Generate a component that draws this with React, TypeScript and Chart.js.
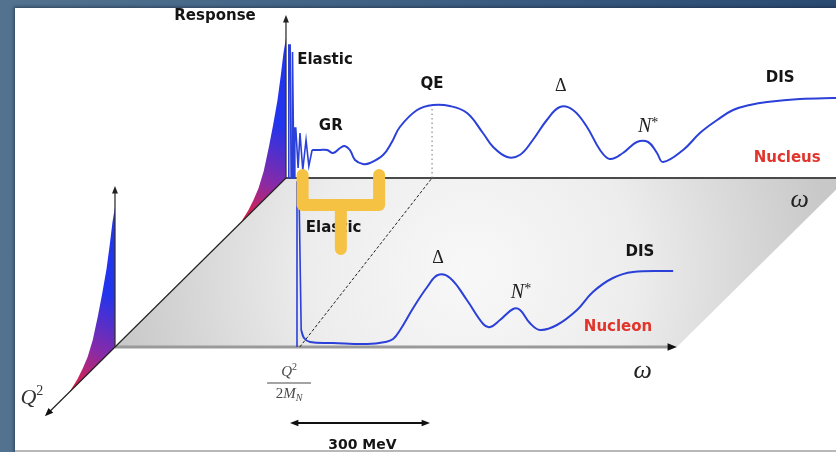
import { useEffect, useRef } from 'react';
import { Chart, registerables } from 'chart.js';

Chart.register(...registerables);

const WIDTH = 836;
const HEIGHT = 452;

// ω runs along x in MeV, the response along y in arbitrary units.
// Q² is shown as depth: 0 is the nucleon plane (front), 1 the nucleus plane (back).
const OMEGA_MIN = -246.4;
const OMEGA_MAX = 1545;
const RESP_MIN = -105;
const RESP_MAX = 347;
const DEPTH_OMEGA = 366.4;
const DEPTH_RESP = 169;

const NUCLEON_DEPTH = 0;
const NUCLEUS_DEPTH = 1;
const Q2_AXIS_TIP = -0.41;
const OMEGA_AXIS_END = 1204;
const NUCLEUS_EDGE_END = 1300;
const RESPONSE_AXIS_TOP = 163;

// Elastic peak height as it falls off with Q² (depth measured from each plane)
const ELASTIC_Q2_DEPTH = [-0.265, -0.22, -0.19, -0.16, -0.13, -0.1, -0.075, -0.05, -0.03, -0.015, 0];
const ELASTIC_Q2_RESP = [0, 5, 10, 17, 29, 48, 66, 86, 108, 127, 140];

// Nucleon: elastic spike at ω = Q²/2M_N, then Δ, N* and DIS
const NUCLEON_ELASTIC_OMEGA = [390, 390, 394, 399];
const NUCLEON_ELASTIC_RESP = [0, 165, 165, 17];
const NUCLEON_OMEGA = [399, 405, 418, 467, 540, 579, 596, 611, 639, 669, 692, 718, 754, 789, 804, 825, 853, 868, 889, 911, 947, 990, 1024, 1067, 1110, 1196];
const NUCLEON_RESP = [17, 9, 5, 4, 3, 5, 8, 17, 39, 60, 72, 69, 47, 23, 20, 27, 38, 37, 24, 17, 22, 37, 55, 69, 75, 76];

// Nucleus: elastic spikes and giant resonance wiggles, then QE, Δ, N* and DIS
const NUCLEUS_ELASTIC_OMEGA = [6, 6, 9, 11, 13, 13, 15, 17, 19, 19, 21, 26, 30, 36, 43, 49, 56];
const NUCLEUS_ELASTIC_RESP = [0, 133, 133, 0, 0, 126, 126, 0, 0, 50, 50, 10, 45, 8, 38, 12, 28];
const NUCLEUS_OMEGA = [56, 73, 88, 101, 116, 126, 137, 148, 165, 180, 208, 227, 244, 281, 315, 351, 388, 422, 444, 474, 501, 529, 559, 587, 615, 645, 673, 694, 722, 752, 776, 795, 808, 851, 887, 924, 958, 994, 1031, 1101, 1172, 1200];
const NUCLEUS_RESP = [28, 28, 28, 25, 30, 32, 28, 18, 14, 15, 23, 36, 51, 68, 73, 72, 65, 45, 31, 21, 23, 38, 58, 71, 68, 51, 28, 19, 25, 36, 36, 25, 16, 28, 45, 58, 68, 73, 76, 79, 80, 80];

// Quasi-elastic guide: from the nucleon elastic point to the nucleus QE peak
const QE_LINE_OMEGA = [396, 313];
const QE_LINE_DEPTH = [0, 1];
const QE_PEAK_OMEGA = 313;
const QE_PEAK_RESP = 72;

// 300 MeV scale bar
const SCALE_BAR_OMEGA = [375, 675];
const SCALE_BAR_RESP = -76;

// Highlight bracket over the elastic region
const BRACKET_OMEGA = [402, 402, 566, 566, 566, 484, 484];
const BRACKET_RESP = [172, 142, 142, 172, 142, 142, 98];

const BLUE = '#2a40d8';
const RED = '#e0352c';
const INK = '#151515';
const SANS = '"DejaVu Sans", Arial, sans-serif';
const SERIF = '"Liberation Serif", "DejaVu Serif", serif';

type Pt = { x: number; y: number };
const proj = (w: number, r: number, d: number): Pt => ({ x: w + d * DEPTH_OMEGA, y: r + d * DEPTH_RESP });

const series = (ws: number[], rs: number[], d: number): Pt[] => ws.map((w, i) => proj(w, rs[i], d));

function elasticShape(base: number): Pt[] {
  const top = ELASTIC_Q2_DEPTH.map((dd, i) => proj(0, ELASTIC_Q2_RESP[i], base + dd));
  return [...top, proj(0, 0, base), proj(0, 0, base + ELASTIC_Q2_DEPTH[0])];
}

function toPx(chart: Chart, w: number, r: number, d: number) {
  const p = proj(w, r, d);
  return { x: chart.scales.x.getPixelForValue(p.x), y: chart.scales.y.getPixelForValue(p.y) };
}

function elasticGradient(base: number) {
  return (c: any) => {
    const chart = c.chart as Chart;
    if (!chart.chartArea) return '#5030c0';
    const a = toPx(chart, 0, 0, base + ELASTIC_Q2_DEPTH[0]);
    const b = toPx(chart, 0, 50, base);
    const g = chart.ctx.createLinearGradient(a.x, a.y, b.x, b.y);
    g.addColorStop(0, '#e8203a');
    g.addColorStop(0.45, '#8a2aa6');
    g.addColorStop(1, '#2234ec');
    return g;
  };
}

function planeGradient(c: any) {
  const chart = c.chart as Chart;
  if (!chart.chartArea) return '#e0e0e0';
  const ctr = toPx(chart, 600, 0, 0.45);
  const g = chart.ctx.createRadialGradient(ctr.x, ctr.y, 0, ctr.x, ctr.y, 360);
  g.addColorStop(0, '#f8f8f8');
  g.addColorStop(0.45, '#ededed');
  g.addColorStop(0.8, '#d5d5d5');
  g.addColorStop(1, '#c8c8c8');
  return g;
}

function arrowHead(ctx: CanvasRenderingContext2D, from: Pt, to: Pt, size: number, color: string) {
  const ang = Math.atan2(to.y - from.y, to.x - from.x);
  ctx.save();
  ctx.fillStyle = color;
  ctx.beginPath();
  ctx.moveTo(to.x, to.y);
  ctx.lineTo(to.x - size * Math.cos(ang - 0.38), to.y - size * Math.sin(ang - 0.38));
  ctx.lineTo(to.x - size * Math.cos(ang + 0.38), to.y - size * Math.sin(ang + 0.38));
  ctx.closePath();
  ctx.fill();
  ctx.restore();
}

function text(ctx: CanvasRenderingContext2D, s: string, p: Pt, font: string, color: string, align: CanvasTextAlign = 'center', base: CanvasTextBaseline = 'middle') {
  ctx.font = font;
  ctx.fillStyle = color;
  ctx.textAlign = align;
  ctx.textBaseline = base;
  ctx.fillText(s, p.x, p.y);
}

// A symbol with a raised or lowered index, centred on p
function indexed(ctx: CanvasRenderingContext2D, main: string, idx: string, p: Pt, size: number, idxSize: number, shift: number, color: string, mainFont = 'italic', idxFont = '') {
  const mf = `${mainFont} ${size}px ${SERIF}`.trim();
  const sf = `${idxFont} ${idxSize}px ${SERIF}`.trim();
  ctx.font = mf;
  const w1 = ctx.measureText(main).width;
  ctx.font = sf;
  const w2 = ctx.measureText(idx).width;
  const x0 = p.x - (w1 + w2) / 2;
  text(ctx, main, { x: x0, y: p.y }, mf, color, 'left');
  text(ctx, idx, { x: x0 + w1, y: p.y + shift }, sf, color, 'left');
}

const BOLD_LABELS = [
  { s: 'Response', w: -152, r: 162, d: NUCLEUS_DEPTH, align: 'center', color: INK },
  { s: 'Elastic', w: 24, r: 118, d: NUCLEUS_DEPTH, align: 'left', color: INK },
  { s: 'GR', w: 96, r: 52, d: NUCLEUS_DEPTH, align: 'center', color: INK },
  { s: 'QE', w: 313, r: 94, d: NUCLEUS_DEPTH, align: 'center', color: INK },
  { s: 'DIS', w: 1059, r: 100, d: NUCLEUS_DEPTH, align: 'center', color: INK },
  { s: 'Nucleus', w: 1074, r: 20, d: NUCLEUS_DEPTH, align: 'center', color: RED },
  { s: 'Elastic', w: 409, r: 119, d: NUCLEON_DEPTH, align: 'left', color: INK },
  { s: 'DIS', w: 1125, r: 95, d: NUCLEON_DEPTH, align: 'center', color: INK },
  { s: 'Nucleon', w: 1078, r: 20, d: NUCLEON_DEPTH, align: 'center', color: RED },
];

function drawDecorations(chart: Chart) {
  const ctx = chart.ctx;
  ctx.save();

  // arrowheads on the axes
  arrowHead(ctx, toPx(chart, 0, 100, NUCLEUS_DEPTH), toPx(chart, 0, RESPONSE_AXIS_TOP, NUCLEUS_DEPTH), 8, '#222');
  arrowHead(ctx, toPx(chart, 0, 100, NUCLEON_DEPTH), toPx(chart, 0, RESPONSE_AXIS_TOP - 2, NUCLEON_DEPTH), 8, '#222');
  arrowHead(ctx, toPx(chart, 0, 0, 0), toPx(chart, 0, 0, Q2_AXIS_TIP), 9, '#111');
  arrowHead(ctx, toPx(chart, 1000, 0, 0), toPx(chart, OMEGA_AXIS_END, 0, 0), 10, '#111');

  // 300 MeV scale bar
  const s0 = toPx(chart, SCALE_BAR_OMEGA[0], SCALE_BAR_RESP, 0);
  const s1 = toPx(chart, SCALE_BAR_OMEGA[1], SCALE_BAR_RESP, 0);
  ctx.strokeStyle = '#111';
  ctx.lineWidth = 2;
  ctx.beginPath();
  ctx.moveTo(s0.x + 4, s0.y);
  ctx.lineTo(s1.x - 4, s1.y);
  ctx.stroke();
  arrowHead(ctx, s1, s0, 9, '#111');
  arrowHead(ctx, s0, s1, 9, '#111');
  text(ctx, '300 MeV', toPx(chart, 530, -102, 0), `bold 14px ${SANS}`, INK, 'center', 'alphabetic');

  for (const l of BOLD_LABELS) {
    text(ctx, l.s, toPx(chart, l.w, l.r, l.d), `bold 15px ${SANS}`, l.color, l.align as CanvasTextAlign);
  }

  // resonance symbols
  text(ctx, 'Δ', toPx(chart, 589, 92, NUCLEUS_DEPTH), `18px ${SERIF}`, '#222');
  text(ctx, 'Δ', toPx(chart, 692, 89, NUCLEON_DEPTH), `18px ${SERIF}`, '#222');
  indexed(ctx, 'N', '*', toPx(chart, 776, 51, NUCLEUS_DEPTH), 20, 14, -4, '#222');
  indexed(ctx, 'N', '*', toPx(chart, 870, 54, NUCLEON_DEPTH), 20, 14, -4, '#222');

  // axis names
  text(ctx, 'ω', toPx(chart, 1101, -22, NUCLEUS_DEPTH), `italic 26px ${SERIF}`, '#222');
  text(ctx, 'ω', toPx(chart, 1131, -24, NUCLEON_DEPTH), `italic 26px ${SERIF}`, '#222');
  indexed(ctx, 'Q', '2', toPx(chart, -178, -51, 0), 22, 14, -7, '#333');

  // Q²/2M_N under the nucleon elastic point
  const fc = toPx(chart, 373, -36, 0);
  const gray = '#4a4a4a';
  indexed(ctx, 'Q', '2', { x: fc.x, y: fc.y - 11 }, 15, 10, -5, gray);
  ctx.strokeStyle = gray;
  ctx.lineWidth = 1.2;
  ctx.beginPath();
  ctx.moveTo(fc.x - 22, fc.y);
  ctx.lineTo(fc.x + 22, fc.y);
  ctx.stroke();
  ctx.font = `15px ${SERIF}`;
  const w2 = ctx.measureText('2').width;
  ctx.font = `italic 15px ${SERIF}`;
  const wM = ctx.measureText('M').width;
  ctx.font = `italic 10px ${SERIF}`;
  const wN = ctx.measureText('N').width;
  const x0 = fc.x - (w2 + wM + wN) / 2;
  text(ctx, '2', { x: x0, y: fc.y + 11 }, `15px ${SERIF}`, gray, 'left');
  text(ctx, 'M', { x: x0 + w2, y: fc.y + 11 }, `italic 15px ${SERIF}`, gray, 'left');
  text(ctx, 'N', { x: x0 + w2 + wM, y: fc.y + 15 }, `italic 10px ${SERIF}`, gray, 'left');

  ctx.restore();
}

const decorations = {
  id: 'figureDecorations',
  beforeDatasetDraw(chart: Chart, args: any) {
    if ((chart.data.datasets[args.index] as any).label === 'bracket') drawDecorations(chart);
  },
};

function line(label: string, data: Pt[], color: string, width: number, order: number, extra: any = {}) {
  return { label, data, borderColor: color, borderWidth: width, pointRadius: 0, tension: 0, fill: false, order, ...extra };
}

export default function App() {
  const ref = useRef<HTMLCanvasElement | null>(null);

  useEffect(() => {
    if (!ref.current) return;
    const plane = [proj(0, 0, 0), proj(OMEGA_AXIS_END, 0, 0), proj(OMEGA_AXIS_END, 0, 1), proj(0, 0, 1), proj(0, 0, 0)];
    const datasets: any[] = [
      line('bracket', series(BRACKET_OMEGA, BRACKET_RESP, 0), '#f5c244', 12, 0, { borderCapStyle: 'round', borderJoinStyle: 'round' }),
      line('nucleon', series(NUCLEON_OMEGA, NUCLEON_RESP, NUCLEON_DEPTH), BLUE, 2, 10, { tension: 0.4 }),
      line('nucleon elastic', series(NUCLEON_ELASTIC_OMEGA, NUCLEON_ELASTIC_RESP, NUCLEON_DEPTH), BLUE, 1.6, 11),
      line('nucleus', series(NUCLEUS_OMEGA, NUCLEUS_RESP, NUCLEUS_DEPTH), BLUE, 2, 12, { tension: 0.4 }),
      line('nucleus elastic', series(NUCLEUS_ELASTIC_OMEGA, NUCLEUS_ELASTIC_RESP, NUCLEUS_DEPTH), BLUE, 1.6, 13),
      line('qe guide', QE_LINE_OMEGA.map((w, i) => proj(w, 0, QE_LINE_DEPTH[i])), '#222', 1, 40, { borderDash: [3, 2] }),
      line('qe peak', [proj(QE_PEAK_OMEGA, 0, NUCLEUS_DEPTH), proj(QE_PEAK_OMEGA, QE_PEAK_RESP, NUCLEUS_DEPTH)], '#777', 1, 41, { borderDash: [1.5, 3] }),
      line('nucleus response axis', [proj(0, 0, NUCLEUS_DEPTH), proj(0, RESPONSE_AXIS_TOP - 4, NUCLEUS_DEPTH)], '#333', 1.3, 50),
      line('nucleon response axis', [proj(0, 0, NUCLEON_DEPTH), proj(0, RESPONSE_AXIS_TOP - 6, NUCLEON_DEPTH)], '#333', 1.3, 51),
      line('q2 axis', [proj(0, 0, Q2_AXIS_TIP + 0.03), proj(0, 0, NUCLEUS_DEPTH)], '#222', 1.2, 52),
      line('omega axis', [proj(0, 0, NUCLEON_DEPTH), proj(OMEGA_AXIS_END - 10, 0, NUCLEON_DEPTH)], '#9a9a9a', 3, 53),
      line('nucleus edge', [proj(0, 0, NUCLEUS_DEPTH), proj(NUCLEUS_EDGE_END, 0, NUCLEUS_DEPTH)], '#4a4a4a', 1.8, 54),
      line('nucleus elastic falloff', elasticShape(NUCLEUS_DEPTH), 'rgba(0,0,0,0)', 0, 60, { fill: 'shape', backgroundColor: elasticGradient(NUCLEUS_DEPTH) }),
      line('nucleon elastic falloff', elasticShape(NUCLEON_DEPTH), 'rgba(0,0,0,0)', 0, 61, { fill: 'shape', backgroundColor: elasticGradient(NUCLEON_DEPTH) }),
      line('plane', plane, 'rgba(0,0,0,0)', 0, 100, { fill: 'shape', backgroundColor: planeGradient }),
    ];

    const chart = new Chart(ref.current, {
      type: 'line',
      data: { datasets },
      options: {
        responsive: false,
        animation: false,
        events: [],
        layout: { padding: 0 },
        plugins: { legend: { display: false }, tooltip: { enabled: false } },
        scales: {
          x: { type: 'linear', min: OMEGA_MIN, max: OMEGA_MAX, display: false },
          y: { type: 'linear', min: RESP_MIN, max: RESP_MAX, display: false },
        },
      },
      plugins: [decorations],
    });
    return () => chart.destroy();
  }, []);

  return (
    <div
      style={{
        position: 'absolute',
        left: 0,
        top: 0,
        width: WIDTH,
        height: HEIGHT,
        overflow: 'hidden',
        background: 'linear-gradient(90deg, #52728f 0%, #3f5f83 50%, #2b4a72 100%)',
      }}
    >
      <div
        style={{
          position: 'absolute',
          left: 15,
          top: 8,
          width: WIDTH - 15,
          height: HEIGHT - 8,
          boxSizing: 'border-box',
          background: '#ffffff',
          borderBottom: '2px solid #b8b8b8',
          boxShadow: '0 0 3px 1px rgba(20,30,50,0.55)',
        }}
      />
      <canvas ref={ref} width={WIDTH} height={HEIGHT} style={{ position: 'absolute', left: 0, top: 0 }} />
    </div>
  );
}
